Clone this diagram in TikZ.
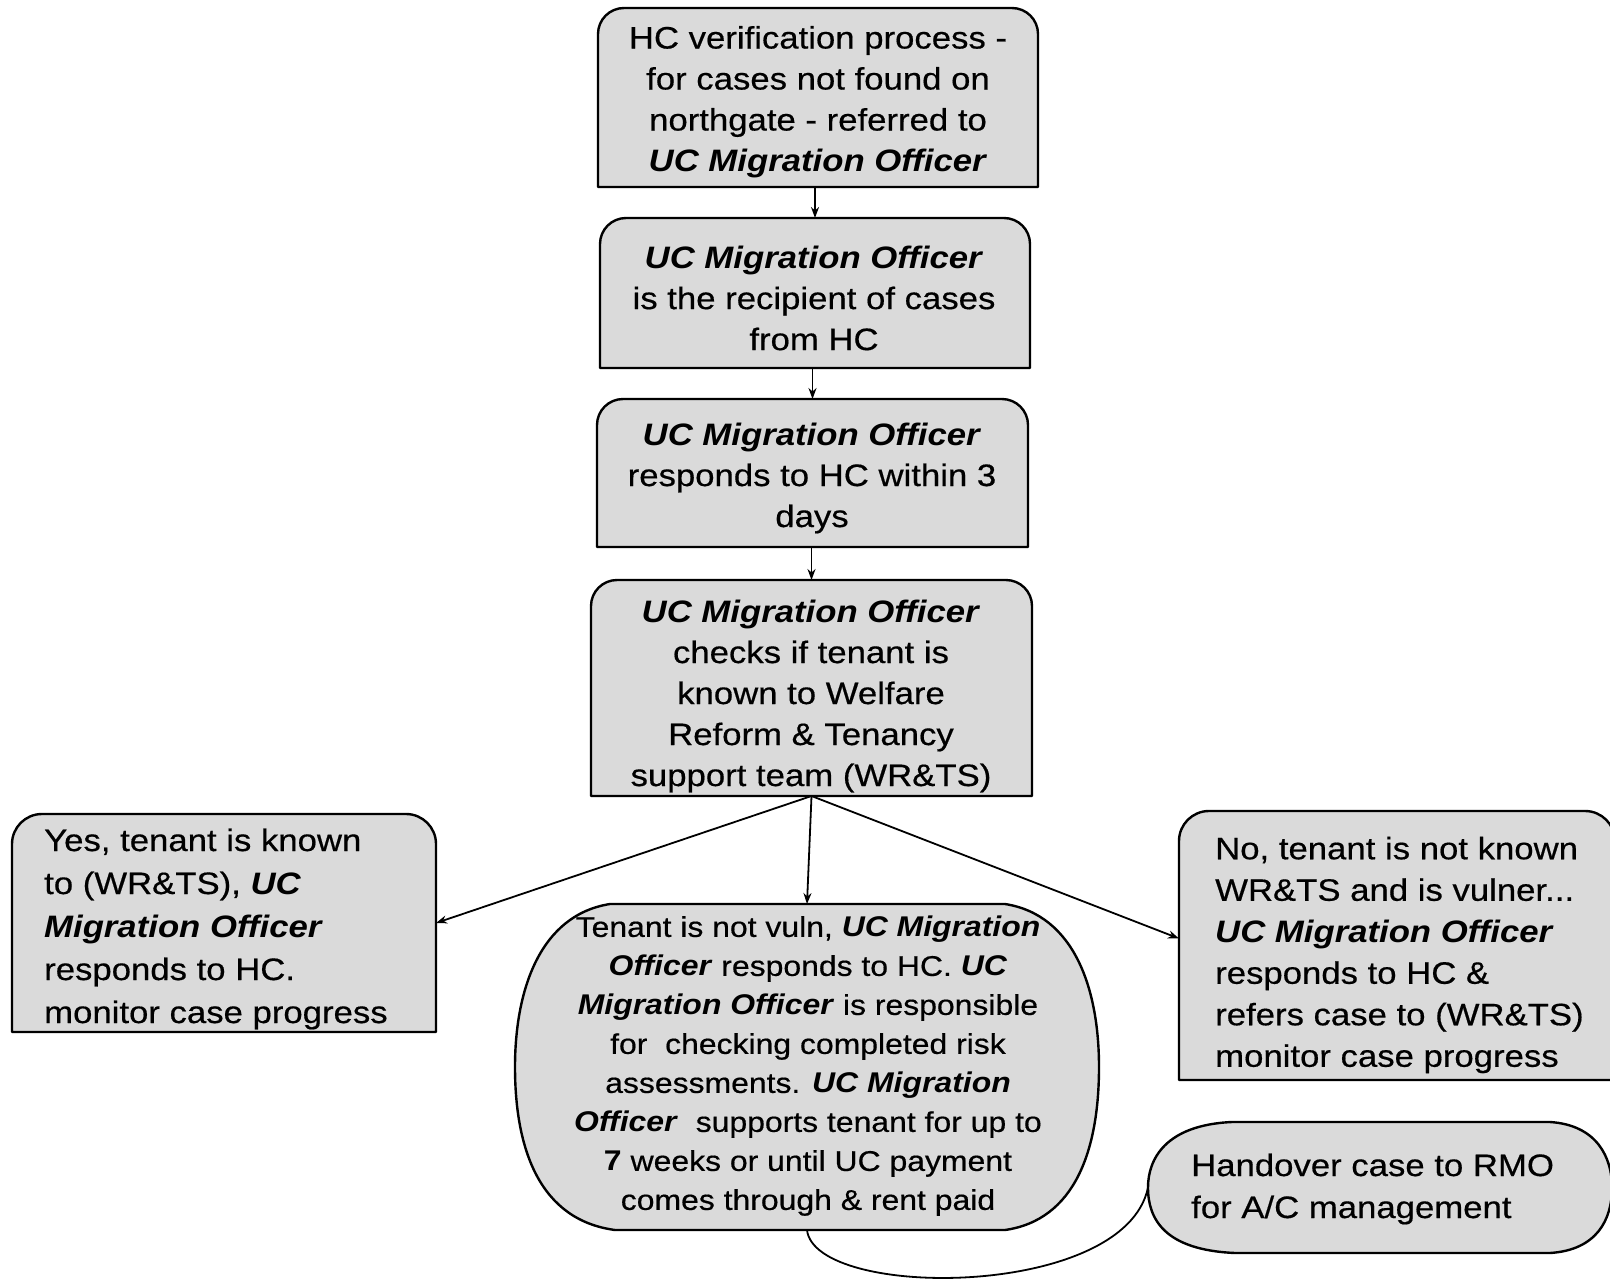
\documentclass[tikz,border=0pt]{standalone}
\usepackage{fontspec}
\setmainfont{Liberation Sans}[FakeStretch=1.12, UprightFeatures={FakeBold=0.5}]
\usetikzlibrary{arrows.meta,calc}
\definecolor{boxfill}{RGB}{218,218,218}
\newcommand{\ucmo}[1]{\textbf{\itshape #1}}
% rectangle with rounded top corners and square bottom corners
\newcommand{\tabbox}[2][26pt]{%
  \path[outline] (#2.south west) -- ($(#2.north west)+(0,-#1)$)
    arc[start angle=180,end angle=90,radius=#1]
    -- ($(#2.north east)+(-#1,0)$)
    arc[start angle=90,end angle=0,radius=#1]
    -- (#2.south east) -- cycle;}
\begin{document}
\begin{tikzpicture}[x=1pt,y=-1pt,
  frame/.style={draw=none, inner sep=0pt, outer sep=0pt},
  outline/.style={draw=black, line width=2.4pt, fill=boxfill, line join=round},
  txt/.style={inner sep=0pt, font=\fontsize{31}{41}\selectfont, align=center},
  ltxt/.style={inner sep=0pt, anchor=west, align=left},
  arr/.style={draw=black, line width=1.8pt, -{Stealth[length=11pt,width=8pt]}},
  link/.style={draw=black, line width=1.8pt},
]
\useasboundingbox (0,0) rectangle (1610,1282);
\fill[white] (0,0) rectangle (1610,1282);

% shape frames
\node[frame, minimum width=440pt, minimum height=179pt] (b1) at (818,97.5) {};
\node[frame, minimum width=430pt, minimum height=150pt] (b2) at (815,293) {};
\node[frame, minimum width=431pt, minimum height=148pt] (b3) at (812.5,473) {};
\node[frame, minimum width=441pt, minimum height=216pt] (b4) at (811.5,688) {};
\node[frame, minimum width=424pt, minimum height=218pt] (yes) at (224,923) {};
\node[frame, minimum width=436pt, minimum height=269pt] (no) at (1397,945.5) {};
\node[frame, minimum width=584pt, minimum height=326pt] (mid) at (807,1067) {};
\node[frame, minimum width=464pt, minimum height=131pt] (rmo) at (1380,1187.5) {};

% outlines
\tabbox{b1}
\tabbox{b2}
\tabbox{b3}
\tabbox{b4}
\tabbox[30pt]{yes}
\tabbox[30pt]{no}

\path[outline] ($(mid.north west)+(95pt,0)$) -- ($(mid.north east)+(-94pt,0)$)
  .. controls ($(mid.north east)+(-24pt,-11pt)$) and ($(mid.east)+(0,77pt)$) .. (mid.east)
  .. controls ($(mid.east)+(0,-83pt)$) and ($(mid.south east)+(-24pt,10pt)$) .. ($(mid.south east)+(-94pt,0)$)
  -- ($(mid.south west)+(100pt,0)$)
  .. controls ($(mid.south west)+(25pt,10pt)$) and ($(mid.west)+(0,-83pt)$) .. (mid.west)
  .. controls ($(mid.west)+(0,77pt)$) and ($(mid.north west)+(25pt,-11pt)$) .. cycle;

\path[outline] ($(rmo.north west)+(84pt,0)$) -- ($(rmo.north east)+(-62pt,0)$)
  .. controls ($(rmo.north east)+(-15pt,-3pt)$) and ($(rmo.east)+(0,30pt)$) .. (rmo.east)
  .. controls ($(rmo.east)+(0,-32pt)$) and ($(rmo.south east)+(-15pt,3pt)$) .. ($(rmo.south east)+(-62pt,0)$)
  -- ($(rmo.south west)+(87pt,0)$)
  .. controls ($(rmo.south west)+(17pt,3pt)$) and ($(rmo.west)+(0,-32pt)$) .. (rmo.west)
  .. controls ($(rmo.west)+(0,28pt)$) and ($(rmo.north west)+(17pt,-3pt)$) .. cycle;

% texts
\node[txt] (t1) at (818,102) {HC verification process -\\for cases not found on\\northgate - referred to\\\ucmo{UC Migration Officer}};
\node[txt] (t2) at (814,298) {\ucmo{UC Migration Officer}\\is the recipient of cases\\from HC};
\node[txt] (t3) at (812,478) {\ucmo{UC Migration Officer}\\responds to HC within 3\\days};
\node[txt] (t4) at (811,696) {\ucmo{UC Migration Officer}\\checks if tenant is\\known to Welfare\\Reform \& Tenancy\\support team (WR\&TS)};
\node[ltxt, font=\fontsize{31}{43}\selectfont] (tyes) at (44,929) {Yes, tenant is known\\to (WR\&TS), \ucmo{UC}\\\ucmo{Migration Officer}\\responds to HC.\\monitor case progress};
\node[txt, font=\fontsize{28.5}{39}\selectfont] (tmid) at (808,1066) {Tenant is not vuln, \ucmo{UC Migration}\\\ucmo{Officer} responds to HC. \ucmo{UC}\\\ucmo{Migration Officer} is responsible\\for\ \ checking completed risk\\assessments. \ucmo{UC Migration}\\\ucmo{Officer}\ \ supports tenant for up to\\\textbf{7} weeks or until UC payment\\comes through \& rent paid};
\node[ltxt, font=\fontsize{31}{41.5}\selectfont] (tno) at (1215,955) {No, tenant is not known\\WR\&TS and is vulner...\\\ucmo{UC Migration Officer}\\responds to HC \&\\refers case to (WR\&TS)\\monitor case progress};
\node[ltxt, font=\fontsize{31}{42}\selectfont] (trmo) at (1191,1189) {Handover case to RMO\\for A/C management};

% connectors
\draw[arr] (b2.north |- b1.south) -- (b2.north);
\draw[arr] (b3.north |- b2.south) -- (b3.north);
\draw[arr] (b4.north |- b3.south) -- (b4.north);
\draw[arr] (b4.south) -- (yes.east);
\draw[arr] (b4.south) -- (mid.north);
\draw[arr] (b4.south) -- ([yshift=7pt]no.west);
\draw[link] (mid.south) .. controls ($(mid.south)+(8pt,-70pt)$) and ($(rmo.west)+(-23pt,-112pt)$) .. (rmo.west);
\end{tikzpicture}
\end{document}
